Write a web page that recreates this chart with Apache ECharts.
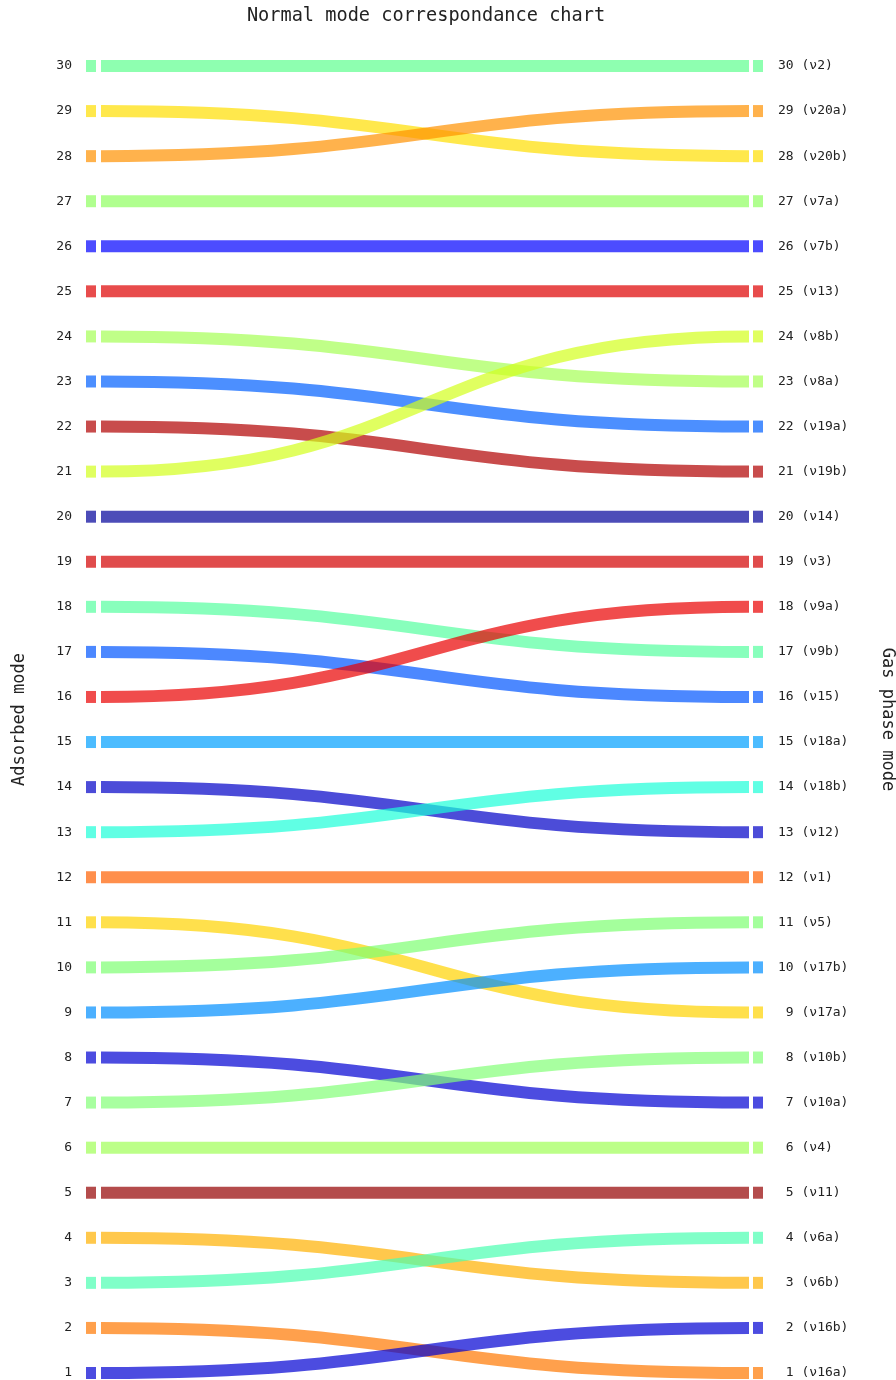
<!DOCTYPE html>
<html>
<head>
<meta charset="utf-8">
<script src="https://cdn.jsdelivr.net/npm/echarts@6/dist/echarts.min.js"></script>
<style>
html,body{margin:0;padding:0;background:#fff;}
#main{width:896px;height:1380px;}
</style>
</head>
<body>
<div id="main"></div>
<script>
// Adsorbed mode (left) -> gas phase mode (right)
const adsorbedModes = [30,29,28,27,26,25,24,23,22,21,20,19,18,17,16,15,14,13,12,11,10,9,8,7,6,5,4,3,2,1];
const gasModes      = [30,28,29,27,26,25,23,22,21,24,20,19,17,16,18,15,13,14,12,9,11,10,7,8,6,5,3,4,1,2];
// Gas phase labels for right positions 1..30
const gasLabels = ['ν16a','ν16b','ν6b','ν6a','ν11','ν4','ν10a','ν10b','ν17a','ν17b',
                   'ν5','ν1','ν12','ν18b','ν18a','ν15','ν9b','ν9a','ν3','ν14',
                   'ν19b','ν19a','ν8a','ν8b','ν13','ν7b','ν7a','ν20b','ν20a','ν2'];
// Apparent colours of each link (same order as adsorbedModes)
const linkColors = ['#8effb0','#ffe84c','#ffb24c','#b0ff90','#4c4cff','#e84c4c','#c0ff88','#4c90ff','#c84c4c','#e0ff60',
                    '#4c4cb8','#e04c4c','#88ffbc','#4c88ff','#f04c4c','#4cbcff','#4c4cd8','#60ffe4','#ff904c','#ffe04c',
                    '#a4ff9c','#4cb0ff','#4c4ce0','#a8ffa0','#bcff88','#b44c4c','#ffc84c','#80ffc8','#ffa04c','#4c4ce0'];
const titleText = 'Normal mode correspondance chart';
const leftName = 'Adsorbed mode';
const rightName = 'Gas phase mode';

const ALPHA = 0.7;
function toRgba(hex){
  const n = parseInt(hex.slice(1),16);
  const c = [(n>>16)&255,(n>>8)&255,n&255].map(v=>Math.max(0,Math.min(255,Math.round((v-255*(1-ALPHA))/ALPHA))));
  return 'rgba('+c[0]+','+c[1]+','+c[2]+','+ALPHA+')';
}

const seriesData = adsorbedModes.map((a,i)=>[a, gasModes[i], i]);
const font = 'DejaVu Sans Mono';

const chart = echarts.init(document.getElementById('main'));
chart.setOption({
  backgroundColor:'#fff',
  animation:false,
  title:{text:titleText,left:421,textAlign:'center',top:2,
    textStyle:{fontFamily:font,fontSize:18.6,fontWeight:'normal',color:'#222'}},
  grid:{left:86,right:133,top:66,bottom:7,containLabel:false,outerBoundsMode:'none'},
  xAxis:{type:'value',min:0,max:1,show:false},
  yAxis:[
    {type:'value',min:1,max:30,interval:1,position:'left',
     name:leftName,nameLocation:'middle',nameGap:58,nameRotate:90,
     nameTextStyle:{fontFamily:font,fontSize:17,color:'#222'},
     axisLine:{show:false},axisTick:{show:false},splitLine:{show:false},
     axisLabel:{fontFamily:font,fontSize:13,color:'#222',margin:14,formatter:v=>String(v)}},
    {type:'value',min:1,max:30,interval:1,position:'right',
     name:rightName,nameLocation:'middle',nameGap:116,nameRotate:-90,
     nameTextStyle:{fontFamily:font,fontSize:17,color:'#222'},
     axisLine:{show:false},axisTick:{show:false},splitLine:{show:false},
     axisLabel:{fontFamily:font,fontSize:13,color:'#222',margin:15,align:'left',
       formatter:v=>(v<10?' ':'')+v+' ('+gasLabels[v-1]+')'}}
  ],
  series:[{
    type:'custom',
    coordinateSystem:'cartesian2d',
    data:seriesData,
    renderItem:function(params,api){
      const p0 = api.coord([0, api.value(0)]);
      const p1 = api.coord([1, api.value(1)]);
      const col = toRgba(linkColors[api.value(2)]);
      const h = 12;
      const xs = p0[0]+15, xe = p1[0]-14, xm = (xs+xe)/2;
      return {type:'group',children:[
        {type:'rect',shape:{x:p0[0],y:p0[1]-h/2,width:10,height:h},style:{fill:col}},
        {type:'rect',shape:{x:p1[0]-10,y:p1[1]-h/2,width:10,height:h},style:{fill:col}},
        {type:'bezierCurve',shape:{x1:xs,y1:p0[1],cpx1:xm,cpy1:p0[1],cpx2:xm,cpy2:p1[1],x2:xe,y2:p1[1]},
         style:{stroke:col,lineWidth:h,fill:null,lineCap:'butt'}}
      ]};
    }
  }]
});
</script>
</body>
</html>
